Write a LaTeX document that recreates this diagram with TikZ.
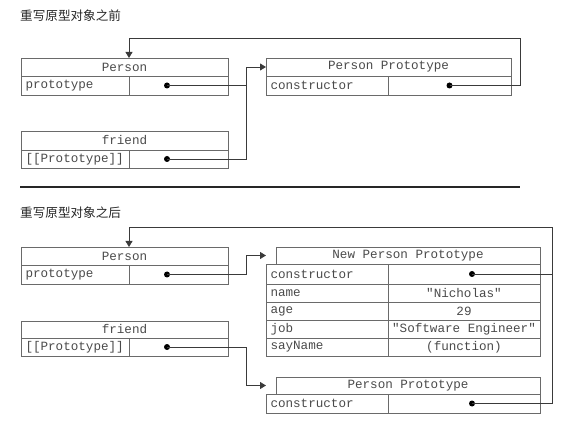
\documentclass[tikz,border=0pt]{standalone}
\usepackage{fontspec}
\setmonofont{Liberation Mono}
\newfontfamily\cjk{Noto Sans CJK SC}
\usetikzlibrary{arrows.meta,positioning}
\definecolor{linegray}{HTML}{6A6A6A}
\definecolor{textgray}{HTML}{4A4A4A}
\definecolor{wiregray}{HTML}{3A3A3A}

\begin{document}
\begin{tikzpicture}
    [x=1pt,y=-1pt,
    cell/.style={draw=linegray,line width=0.8pt,minimum height=18pt,inner sep=0pt,outer sep=0pt,
        anchor=north west,text=textgray,font=\ttfamily\fontsize{12.6}{14}\selectfont},
    hdr/.style={cell,minimum width=#1},
    key/.style={cell,text width=#1,inner xsep=4.5pt,align=left},
    val/.style={cell,minimum width=#1},
    dot/.style={circle,fill=black,inner sep=0pt,minimum size=6pt},
    wire/.style={draw=wiregray,line width=0.8pt},
    link/.style={wire,-{Triangle[length=6pt,width=7pt]}},
    title/.style={anchor=west,inner sep=0pt,text=black!85,font=\cjk\fontsize{12.6}{14}\selectfont}]
    \useasboundingbox (0,0) rectangle (584,422);
    % 重写之前
    \node [title] (t1) at (20,16) {重写原型对象之前};
    \node [hdr=207pt] (person) at (21,58) {Person};
    \node [key=99pt,minimum height=19pt] (pkey) at (person.south west) {prototype};
    \node [val=99pt,minimum height=19pt] (pval) at (pkey.north east) {};
    \node [dot] (pdot) at ([xshift=-11.5pt]pval.center) {};
    \node [hdr=207pt,minimum height=19pt] (friend) at (21,131) {friend};
    \node [key=99pt] (fkey) at (friend.south west) {[[Prototype]]};
    \node [val=99pt] (fval) at (fkey.north east) {};
    \node [dot] (fdot) at ([xshift=-11.5pt]fval.center) {};
    \node [hdr=245pt] (proto) at (266,58) {Person Prototype};
    \node [key=113pt,minimum height=19pt] (ckey) at (proto.south west) {constructor};
    \node [val=123pt,minimum height=19pt] (cval) at (ckey.north east) {};
    \node [dot] (cdot) at (cval.center) {};
    \coordinate (loop1) at (520,38);
    \draw [link] (pdot.center) -| ([xshift=-20pt]proto.west) -- (proto.west);
    \draw [wire] (fdot.center) -| ([xshift=-20pt]proto.west);
    \draw [link] (cdot.center) -| (loop1) -| (pkey.east |- person.north);
    % 分隔线
    \coordinate (s1) at (20,187);
    \coordinate (s2) at (520,187);
    \draw [black!85,line width=1.6pt] (s1) -- (s2);
    % 重写之后
    \node [title] (t2) at (20,213) {重写原型对象之后};
    \node [hdr=207pt] (person2) at (21,247) {Person};
    \node [key=99pt,minimum height=19pt] (pkey2) at (person2.south west) {prototype};
    \node [val=99pt,minimum height=19pt] (pval2) at (pkey2.north east) {};
    \node [dot] (pdot2) at ([xshift=-11.5pt]pval2.center) {};
    \node [hdr=207pt,minimum height=17pt] (friend2) at (21,321) {friend};
    \node [key=99pt] (fkey2) at (friend2.south west) {[[Prototype]]};
    \node [val=99pt] (fval2) at (fkey2.north east) {};
    \node [dot] (fdot2) at ([xshift=-11.5pt]fval2.center) {};
    \node [hdr=264pt,minimum height=17pt] (newproto) at (276,247) {New Person Prototype};
    \node [key=113pt,minimum height=20pt] (nkey1) at ([xshift=-10pt]newproto.south west) {constructor};
    \node [val=152pt,minimum height=20pt] (nval1) at (nkey1.north east) {};
    \node [key=113pt] (nkey2) at (nkey1.south west) {name};
    \node [val=152pt] (nval2) at (nkey2.north east) {"Nicholas"};
    \node [key=113pt] (nkey3) at (nkey2.south west) {age};
    \node [val=152pt] (nval3) at (nkey3.north east) {29};
    \node [key=113pt] (nkey4) at (nkey3.south west) {job};
    \node [val=152pt] (nval4) at (nkey4.north east) {"Software Engineer"};
    \node [key=113pt] (nkey5) at (nkey4.south west) {sayName};
    \node [val=152pt] (nval5) at (nkey5.north east) {(function)};
    \node [dot] (ndot) at ([xshift=8pt]nval1.center) {};
    \node [hdr=264pt,minimum height=17pt] (oldproto) at (276,377) {Person Prototype};
    \node [key=113pt,minimum height=19pt] (okey) at ([xshift=-10pt]oldproto.south west) {constructor};
    \node [val=152pt,minimum height=19pt] (oval) at (okey.north east) {};
    \node [dot] (odot) at ([xshift=8pt]oval.center) {};
    \coordinate (newin) at (nkey1.west |- newproto.west);
    \coordinate (oldin) at (okey.west |- oldproto.west);
    \coordinate (loop2) at (552,227);
    \draw [link] (pdot2.center) -| ([xshift=-20pt]newin) -- (newin);
    \draw [link] (fdot2.center) -| ([xshift=-20pt]oldin) -- (oldin);
    \draw [link] (odot.center) -| (loop2) -| (pkey2.east |- person2.north);
    \draw [wire] (ndot.center) -- (ndot -| loop2);
\end{tikzpicture}
\end{document}
